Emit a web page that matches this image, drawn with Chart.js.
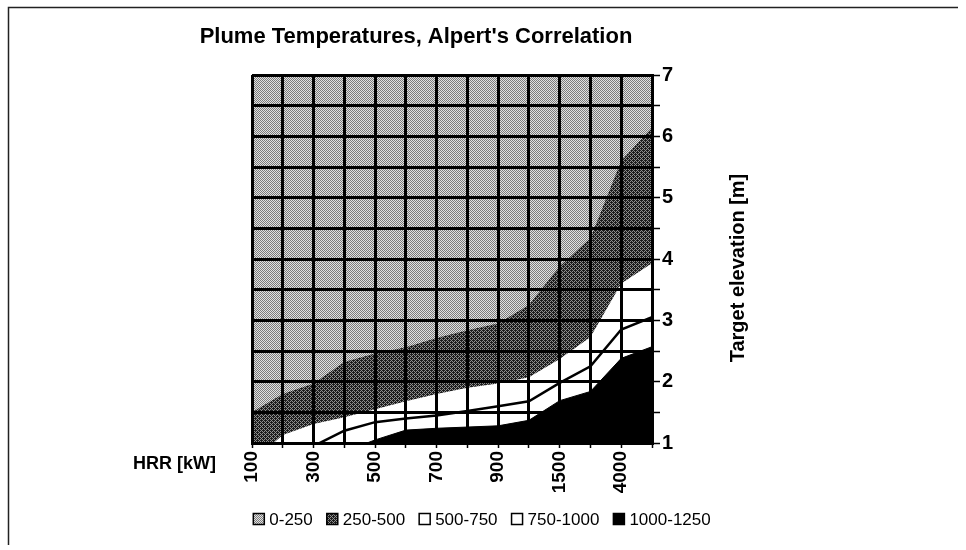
<!DOCTYPE html>
<html><head><meta charset="utf-8">
<script src="https://cdn.jsdelivr.net/npm/chart.js@4.4.1/dist/chart.umd.min.js"></script>
<style>html,body{margin:0;padding:0;background:#fff;}#wrap{width:966px;height:550px;}</style>
</head><body><div id="wrap"><canvas id="c" width="966" height="550"></canvas></div>
<script>
const chartTitle = "Plume Temperatures, Alpert's Correlation";
const xAxisTitle = "HRR [kW]";
const yAxisTitle = "Target elevation [m]";
const hrrCategories = ['100','200','300','400','500','600','700','800','900','1000','1500','2000','4000','5000'];
const shownTickLabels = ['100','300','500','700','900','1500','4000'];
const bandLabels = ['0-250','250-500','500-750','750-1000','1000-1250'];
// elevation (m) of each temperature contour at every HRR category
const iso250  = [1.50, 1.80, 1.97, 2.32, 2.46, 2.56, 2.71, 2.84, 2.95, 3.25, 3.88, 4.34, 5.60, 6.14];
const iso500  = [0.70, 1.13, 1.31, 1.42, 1.55, 1.68, 1.80, 1.90, 1.97, 2.07, 2.37, 2.73, 3.60, 3.93];
const iso750  = [0.50, 0.70, 0.95, 1.20, 1.34, 1.40, 1.45, 1.52, 1.60, 1.68, 1.98, 2.25, 2.85, 3.05];
const iso1000 = [0.40, 0.50, 0.70, 0.86, 1.05, 1.21, 1.24, 1.26, 1.28, 1.37, 1.69, 1.84, 2.38, 2.57];

const FONT = "'Liberation Sans', Arial, sans-serif";
Chart.defaults.font.family = FONT;

function makePattern(p, darkCol, lightCol) {
  const bayer = [[0,8,2,10],[12,4,14,6],[3,11,1,9],[15,7,13,5]];
  const c = document.createElement('canvas');
  c.width = 4; c.height = 4;
  const g = c.getContext('2d');
  for (let y = 0; y < 4; y++) for (let x = 0; x < 4; x++) {
    g.fillStyle = (bayer[y][x] + 0.5) / 16 < p ? darkCol : lightCol;
    g.fillRect(x, y, 1, 1);
  }
  return g.createPattern(c, 'repeat');
}
const lightPat = makePattern(0.5, '#7c7c7c', '#e2e2e2');
const darkPat = makePattern(0.62, '#1c1c1c', '#8e8e8e');
const bandFills = [lightPat, darkPat, '#ffffff', '#ffffff', '#000000'];

const bgPlugin = {
  id: 'plotBg',
  beforeDatasetsDraw(chart) {
    const a = chart.chartArea, c = chart.ctx;
    c.save(); c.fillStyle = lightPat; c.fillRect(a.left, a.top, a.right - a.left, a.bottom - a.top); c.restore();
  }
};

const decorPlugin = {
  id: 'decor',
  afterDraw(chart) {
    const c = chart.ctx;
    c.save();
    c.strokeStyle = '#222'; c.lineWidth = 1.5;
    c.beginPath(); c.moveTo(8.5, 545); c.lineTo(8.5, 7.5); c.lineTo(958, 7.5); c.stroke();
    c.fillStyle = '#000';
    c.font = 'bold 22px ' + FONT; c.textAlign = 'center'; c.textBaseline = 'middle';
    c.fillText(chartTitle, 416, 37);
    c.save(); c.translate(738, 268); c.rotate(-Math.PI / 2);
    c.font = 'bold 20px ' + FONT; c.fillText(yAxisTitle, 0, 0); c.restore();
    c.font = 'bold 18px ' + FONT; c.textAlign = 'right';
    c.fillText(xAxisTitle, 216, 464);
    c.font = '17px ' + FONT; c.textAlign = 'left';
    const box = 11, gapBT = 5, gapItem = 14;
    const widths = bandLabels.map(t => box + gapBT + c.measureText(t).width);
    const total = widths.reduce((s, w) => s + w, 0) + gapItem * (bandLabels.length - 1);
    let x = 482 - total / 2; const y = 519;
    bandLabels.forEach((t, i) => {
      c.fillStyle = bandFills[i]; c.fillRect(x, y - box / 2, box, box);
      c.strokeStyle = '#000'; c.lineWidth = 1.5; c.strokeRect(x, y - box / 2, box, box);
      c.fillStyle = '#000'; c.fillText(t, x + box + gapBT, y + 1);
      x += widths[i] + gapItem;
    });
    c.restore();
  }
};

const common = { pointRadius: 0, tension: 0, clip: 0, fill: 'start' };
new Chart(document.getElementById('c'), {
  type: 'line',
  data: {
    labels: hrrCategories,
    datasets: [
      Object.assign({ label: bandLabels[4], data: iso1000, borderColor: '#000', borderWidth: 1, backgroundColor: '#000' }, common),
      Object.assign({ label: bandLabels[3], data: iso750, borderColor: '#000', borderWidth: 2.5, backgroundColor: '#fff' }, common),
      Object.assign({ label: bandLabels[2], data: iso500, borderColor: 'rgba(0,0,0,0)', borderWidth: 0, backgroundColor: '#fff' }, common),
      Object.assign({ label: bandLabels[1], data: iso250, borderColor: 'rgba(0,0,0,0)', borderWidth: 0, backgroundColor: darkPat }, common)
    ]
  },
  options: {
    responsive: false, animation: false, devicePixelRatio: 1,
    layout: { padding: { left: 252, top: 75, right: 0, bottom: 0 } },
    plugins: { legend: { display: false }, title: { display: false }, tooltip: { enabled: false } },
    scales: {
      x: {
        type: 'category', offset: false,
        grid: { z: 1, color: '#000', lineWidth: 3, tickLength: 5, tickWidth: 1.5, tickColor: '#000' },
        border: { z: 2, color: '#000', width: 3 },
        ticks: {
          z: 2, autoSkip: false, maxRotation: 90, minRotation: 90, padding: 3, color: '#000',
          font: { size: 19, weight: 'bold' },
          callback: (v, i) => shownTickLabels.includes(hrrCategories[i]) ? hrrCategories[i] : ''
        },
        afterFit: s => { s.height = 107; }
      },
      y: {
        position: 'right', min: 1, max: 7,
        grid: { z: 1, color: '#000', lineWidth: 3, tickLength: 8, tickWidth: 1.5, tickColor: '#000' },
        border: { z: 2, color: '#000', width: 3 },
        ticks: {
          z: 2, stepSize: 0.5, padding: 2, color: '#000', font: { size: 20, weight: 'bold' },
          callback: v => Number.isInteger(v) ? String(v) : ''
        },
        afterFit: s => { s.width = 314; }
      }
    }
  },
  plugins: [bgPlugin, decorPlugin]
});
</script></body></html>
